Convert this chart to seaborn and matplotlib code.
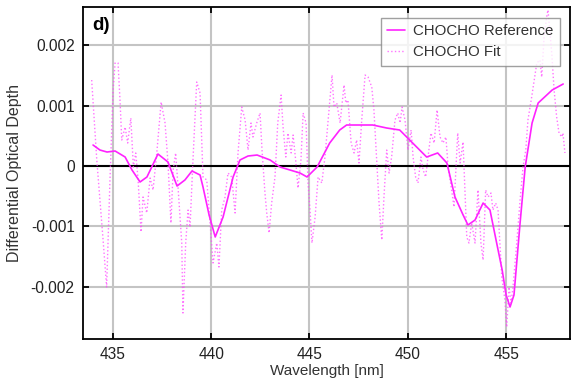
import matplotlib
matplotlib.use("Agg")
import matplotlib.pyplot as plt
import seaborn as sns
import pandas as pd

# CHOCHO reference cross-section (smooth curve)
ref_wavelength = [434.00, 434.35, 434.71, 435.12, 435.63, 435.98, 436.39, 436.74, 437.30, 437.81,
                  438.27, 438.67, 439.03, 439.44, 439.59, 439.90, 440.21, 440.61, 441.12, 441.47,
                  441.88, 442.34, 443.00, 443.51, 444.01, 444.52, 444.88, 445.39, 446.03, 446.54,
                  446.89, 447.55, 448.22, 448.93, 449.59, 450.25, 450.96, 451.52, 451.99, 452.40,
                  452.81, 453.06, 453.42, 453.83, 454.18, 454.54, 454.80, 455.00, 455.20, 455.40,
                  455.71, 455.97, 456.32, 456.63, 457.34, 457.90]
ref_value = [0.348, 0.265, 0.232, 0.249, 0.149, -0.066, -0.265, -0.182, 0.199, 0.066,
             -0.332, -0.232, -0.083, -0.149, -0.348, -0.813, -1.177, -0.846, -0.182, 0.100,
             0.166, 0.182, 0.100, -0.017, -0.066, -0.116, -0.182, -0.017, 0.381, 0.597,
             0.680, 0.680, 0.680, 0.630, 0.597, 0.381, 0.149, 0.216, 0.050, -0.514,
             -0.810, -0.978, -0.896, -0.614, -0.730, -1.310, -1.725, -2.139, -2.338, -2.139,
             -0.945, -0.017, 0.713, 1.045, 1.260, 1.360]

# CHOCHO fit (noisy dotted curve)
fit_wavelength = [433.93, 434.19, 434.51, 434.69, 434.86, 435.02, 435.12, 435.27, 435.37, 435.46,
                  435.63, 435.76, 435.92, 436.05, 436.17, 436.29, 436.44, 436.54, 436.73, 436.90,
                  437.05, 437.24, 437.46, 437.66, 437.81, 437.96, 438.07, 438.20, 438.32, 438.51,
                  438.57, 438.71, 438.83, 438.93, 439.08, 439.27, 439.44, 439.59, 439.78, 439.95,
                  440.10, 440.29, 440.40, 440.54, 440.71, 440.86, 441.05, 441.22, 441.37, 441.56,
                  441.73, 441.88, 442.03, 442.13, 442.32, 442.49, 442.59, 442.74, 442.83, 442.95,
                  443.08, 443.25, 443.39, 443.56, 443.66, 443.80, 443.91, 444.07, 444.17, 444.30,
                  444.42, 444.57, 444.68, 444.83, 444.93, 445.03, 445.13, 445.29, 445.44, 445.63,
                  445.79, 445.95, 446.15, 446.25, 446.39, 446.56, 446.76, 446.85, 446.96, 447.12,
                  447.27, 447.40, 447.52, 447.66, 447.83, 447.98, 448.17, 448.28, 448.42, 448.54,
                  448.68, 448.79, 448.93, 449.05, 449.18, 449.35, 449.49, 449.61, 449.71, 449.86,
                  450.01, 450.17, 450.27, 450.40, 450.52, 450.67, 450.78, 450.91, 451.03, 451.18,
                  451.34, 451.49, 451.64, 451.79, 451.94, 452.05, 452.23, 452.35, 452.54, 452.66,
                  452.81, 452.91, 453.00, 453.11, 453.25, 453.42, 453.57, 453.72, 453.83, 453.96,
                  454.08, 454.23, 454.33, 454.47, 454.59, 454.78, 454.94, 455.03, 455.15, 455.25,
                  455.35, 455.54, 455.71, 455.86, 456.00, 456.11, 456.30, 456.56, 456.72, 456.81,
                  456.93, 457.06, 457.13, 457.32, 457.44, 457.57, 457.69, 457.83, 457.89, 457.99]
fit_value = [1.426, 0.100, -1.227, -2.006, -0.232, 1.260, 1.708, 1.708, 1.094, 0.431,
             0.647, 0.381, 0.796, -0.017, 0.216, -0.232, -1.094, -0.514, -0.779, -0.199,
             -0.398, 0.216, 1.061, 0.713, 0.050, -0.945, -0.066, 0.216, -0.348, -1.277,
             -2.438, -1.277, -0.730, -1.012, 0.100, 1.393, 1.211, -0.182, -0.232, -0.945,
             -1.608, -1.277, -1.675, -0.730, -0.514, -0.116, -0.182, -0.779, 0.216, 0.978,
             0.763, 0.265, 0.713, 0.481, 0.713, 0.879, 0.265, -0.448, -0.779, -1.111,
             -0.614, -0.182, 0.713, 1.177, 0.647, 0.149, 0.547, 0.216, 0.514, 0.100,
             -0.365, 0.100, 0.879, 0.713, -0.282, -0.730, -1.277, -0.846, -0.182, -0.282,
             0.149, 0.763, 1.509, 0.978, 1.045, 0.713, 1.343, 1.045, 1.094, 0.381,
             0.216, 0.431, 0.050, 0.763, 1.509, 1.476, 1.310, 0.929, 0.100, -0.614,
             -1.227, -0.514, 0.265, -0.116, 0.149, 0.763, 0.879, 0.713, 0.978, 0.763,
             0.265, 0.597, 0.149, -0.182, -0.282, 0.149, -0.066, -0.182, 0.149, 0.547,
             0.381, 0.929, 0.481, 0.381, 0.481, -0.017, -0.398, -0.680, 0.547, 0.050,
             0.398, -0.448, -1.177, -1.277, -0.945, -1.277, -0.398, -1.277, -1.559, -0.398,
             -0.514, -0.448, -0.730, -0.614, -0.730, -1.841, -2.222, -2.670, -2.007, -2.272,
             -2.007, -1.277, -0.564, -0.017, 0.265, 0.763, 1.144, 1.708, 1.758, 1.476,
             2.139, 2.471, 2.587, 1.874, 1.260, 0.813, 0.547, 0.481, 0.547, 0.216]

x_ticks = [435, 440, 445, 450, 455]
y_ticks = [-0.002, -0.001, 0.0, 0.001, 0.002]
y_tick_labels = ["-0.002", "-0.001", "0", "0.001", "0.002"]

ref_df = pd.DataFrame({"Wavelength": ref_wavelength,
                       "DOD": [v * 1e-3 for v in ref_value]})
fit_df = pd.DataFrame({"Wavelength": fit_wavelength,
                       "DOD": [v * 1e-3 for v in fit_value]})

sns.set_theme(style="white")
plt.rcParams["font.family"] = ["Liberation Sans", "DejaVu Sans"]

fig = plt.figure(figsize=(5.71, 3.83), dpi=100)
ax = fig.add_axes([0.1454, 0.1149, 0.8536, 0.8668])

ax.grid(True, color="#c4c4c4", linewidth=1.5, zorder=0)
ax.set_axisbelow(True)
ax.axhline(0, color="black", linewidth=1.5, zorder=1)

sns.lineplot(data=ref_df, x="Wavelength", y="DOD", ax=ax, color="#ff22ff",
             linewidth=1.2, label="CHOCHO Reference", zorder=3)
sns.lineplot(data=fit_df, x="Wavelength", y="DOD", ax=ax, color="#ff44ff",
             linewidth=1.0, linestyle=":", alpha=0.75, label="CHOCHO Fit", zorder=2)

ax.set_xlim(433.49, 458.27)
ax.set_ylim(-0.002869, 0.002637)
ax.set_xticks(x_ticks)
ax.set_xticklabels([str(t) for t in x_ticks])
ax.set_yticks(y_ticks)
ax.set_yticklabels(y_tick_labels)

ax.tick_params(axis="both", which="both", direction="in", length=4, width=1.3,
               color="black", labelsize=11.2, labelcolor="#222222",
               top=True, right=True, bottom=True, left=True, pad=6)

for side in ["left", "bottom", "top", "right"]:
    ax.spines[side].set_color("black")
    ax.spines[side].set_linewidth(1.3)

ax.set_xlabel("Wavelength [nm]", fontsize=11, color="#333333", labelpad=1)
ax.set_ylabel("Differential Optical Depth", fontsize=11.5, color="#333333", labelpad=6)

ax.text(0.018, 0.97, "d)", transform=ax.transAxes, fontsize=13.5, fontweight="bold",
        va="top", ha="left", color="black")

leg = ax.legend(loc="upper right", fontsize=10.8, frameon=True, fancybox=False,
                edgecolor="#888888", handlelength=1.2, handletextpad=0.5,
                borderaxespad=0.7, labelspacing=0.45, borderpad=0.45)
leg.get_frame().set_linewidth(1.0)
for t in leg.get_texts():
    t.set_color("#333333")

fig.savefig("out.png", dpi=100)
